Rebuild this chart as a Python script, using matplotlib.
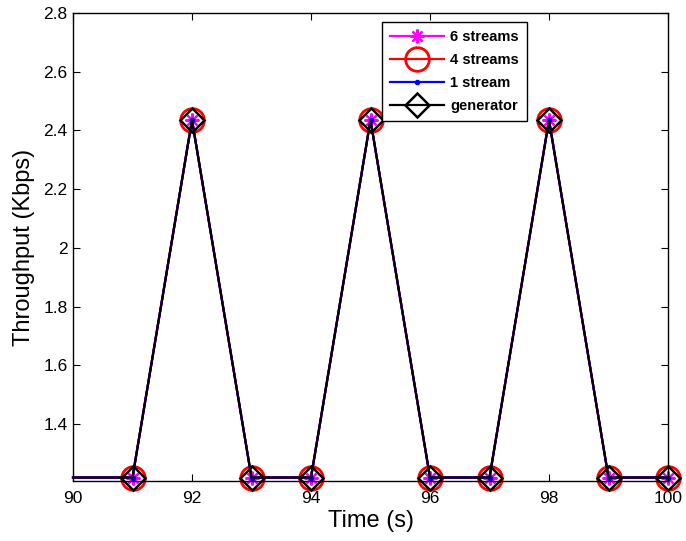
import matplotlib
matplotlib.use("Agg")
import matplotlib.pyplot as plt

# throughput over time, all four series sit on top of each other
time_s = [90, 91, 92, 93, 94, 95, 96, 97, 98, 99, 100]
low, high = 1.2178, 2.4356
generator = [low, low, high, low, low, high, low, low, high, low, low]
six_streams = list(generator)
four_streams = list(generator)
one_stream = list(generator)

plt.rcParams['font.family'] = ['Liberation Sans', 'DejaVu Sans']

dpi = 100
fig = plt.figure(figsize=(686 / dpi, 541 / dpi), dpi=dpi)
ax = fig.add_axes([73 / 686, 1 - 481 / 541, 595 / 686, 468 / 541])

lw = 1.6
marks = slice(1, None)
ax.plot(time_s, six_streams, color='#ff00ff', lw=lw, marker=(8, 2, 0),
        ms=10, mew=1.6, markevery=marks, clip_on=False, label='6 streams')
ax.plot(time_s, four_streams, color='#ff0000', lw=lw, marker='o', ms=17,
        mfc='none', mew=2.0, markevery=marks, clip_on=False, label='4 streams')
ax.plot(time_s, one_stream, color='#0000ff', lw=lw, marker='.', ms=6,
        markevery=marks, clip_on=False, label='1 stream')
ax.plot(time_s, generator, color='black', lw=lw, marker='D', ms=12.5,
        mfc='none', mew=1.8, markevery=marks, clip_on=False, label='generator')

ax.set_xlim(90, 100)
ax.set_ylim(1.206, 2.8)
ax.set_xticks([90, 92, 94, 96, 98, 100])
ax.set_yticks([1.4, 1.6, 1.8, 2.0, 2.2, 2.4, 2.6, 2.8])
ax.set_yticklabels(['1.4', '1.6', '1.8', '2', '2.2', '2.4', '2.6', '2.8'])

ax.tick_params(direction='in', top=True, right=True, length=5, width=0.8,
               labelsize=12.5)
ax.tick_params(axis='y', pad=4)
ax.tick_params(axis='x', pad=7)
for s in ax.spines.values():
    s.set_linewidth(1.0)

ax.set_xlabel('Time (s)', fontsize=17)
ax.set_ylabel('Throughput (Kbps)', fontsize=17)
ax.xaxis.set_label_coords(0.5, -0.061)
ax.yaxis.set_label_coords(-0.064, 0.5)

leg = ax.legend(loc='upper left', bbox_to_anchor=(0.519, 0.981),
                borderaxespad=0, prop={'weight': 'bold', 'size': 10.5},
                handlelength=3.7, handletextpad=0.45, labelspacing=0.62,
                borderpad=0.55, fancybox=False, framealpha=1)
leg.get_frame().set_edgecolor('black')
leg.get_frame().set_linewidth(1.0)

fig.savefig('out.png', dpi=dpi)
